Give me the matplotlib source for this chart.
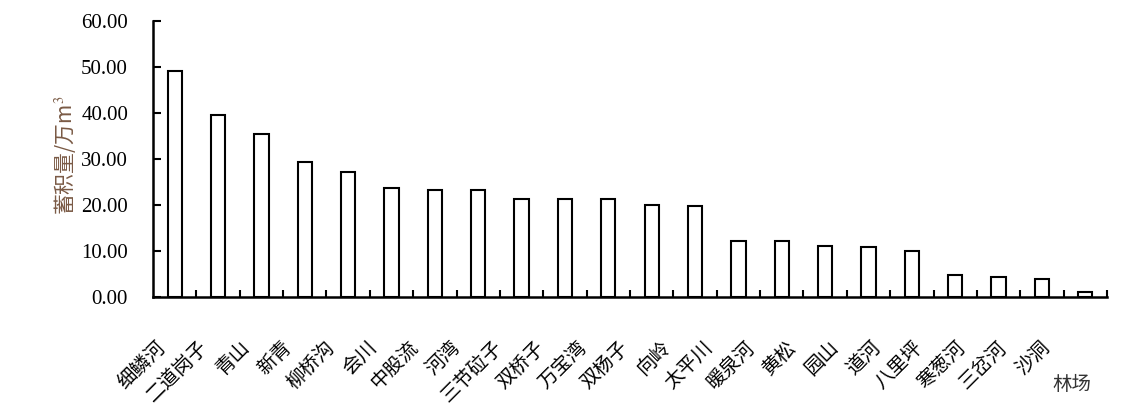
import numpy as np
import matplotlib
matplotlib.use("Agg")
import matplotlib.pyplot as plt
from matplotlib.transforms import ScaledTranslation

plt.rcParams['font.family'] = ['Liberation Serif', 'Noto Sans CJK SC', 'DejaVu Sans']
plt.rcParams['mathtext.fontset'] = 'stix'

# forest farms and standing volume (10^4 m3)
farms = ['细鳞河', '二道岗子', '青山', '新青', '柳桥沟', '会川', '中股流', '河湾',
         '三节砬子', '双桥子', '万宝湾', '双杨子', '向岭', '太平川', '暖泉河', '黄松',
         '园山', '道河', '八里坪', '寒葱河', '三岔河', '沙洞']
volume = [49.1, 39.6, 35.4, 29.2, 27.2, 23.7, 23.1, 23.1,
          21.3, 21.3, 21.3, 20.0, 19.8, 12.2, 12.2, 11.1,
          10.7, 10.0, 4.8, 4.3, 3.9, 1.1]
yticks = [0, 10, 20, 30, 40, 50, 60]

fig = plt.figure(figsize=(11.34, 4.05), dpi=100)
ax = fig.add_axes([153/1134, 1-296.7/405, (1107-153)/1134, (296.7-20.7)/405])

x = np.arange(len(farms))
ax.bar(x, volume, width=0.33, color='white', edgecolor='black', linewidth=1.5)

ax.set_xlim(-0.5, len(farms)-0.5)
ax.set_ylim(0, 60)
ax.set_yticks(yticks)
ax.set_yticklabels(['%.2f' % v for v in yticks], fontsize=15)

ax.set_xticks(x)
ax.set_xticklabels(farms, rotation=45, ha='right', va='center', rotation_mode='anchor',
                   fontsize=14, family=['Noto Sans CJK SC', 'DejaVu Sans'])
ax.tick_params(axis='x', which='major', length=0, pad=34)
# labels drift left a little along the axis, like the original
for i, lab in enumerate(ax.get_xticklabels()):
    dx = -(12 + 1.3*i) / 100
    lab.set_transform(lab.get_transform() + ScaledTranslation(dx, 0, fig.dpi_scale_trans))
ax.set_xticks(np.arange(0.5, len(farms)), minor=True)
ax.tick_params(axis='x', which='minor', direction='in', length=5, width=1.5)
ax.tick_params(axis='y', direction='in', length=6, width=1.5, pad=18)

for s in ['top', 'right']:
    ax.spines[s].set_visible(False)
for s in ['left', 'bottom']:
    ax.spines[s].set_linewidth(1.8)

fig.text(65/1134, 1-155/405, '蓄积量/万m$^3$', rotation=90, ha='center', va='center',
         fontsize=15, color='#7a5a45', family=['Noto Sans CJK SC', 'DejaVu Sans'])
fig.text(1072/1134, 1-384/405, '林场', ha='center', va='center', fontsize=14,
         color='#333333', family=['Noto Sans CJK SC', 'DejaVu Sans'])

fig.savefig('out.png', dpi=100)
